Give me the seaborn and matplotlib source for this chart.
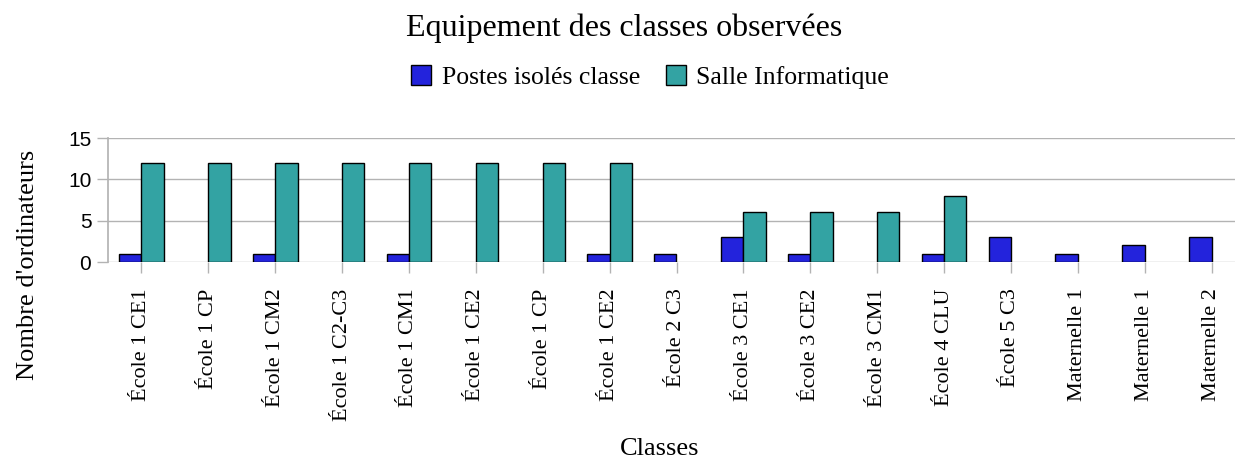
import numpy as np
import pandas as pd
import matplotlib
matplotlib.use("Agg")
import matplotlib.pyplot as plt
import seaborn as sns

# Données
classes = ["École 1 CE1", "École 1 CP", "École 1 CM2", "École 1 C2-C3", "École 1 CM1",
           "École 1 CE2", "École 1 CP", "École 1 CE2", "École 2 C3", "École 3 CE1",
           "École 3 CE2", "École 3 CM1", "École 4 CLU", "École 5 C3", "Maternelle 1",
           "Maternelle 1", "Maternelle 2"]
postes_isoles = [1, 0, 1, 0, 1, 0, 0, 1, 1, 3, 1, 0, 1, 3, 1, 2, 3]
salle_info = [12, 12, 12, 12, 12, 12, 12, 12, 0, 6, 6, 6, 8, 0, 0, 0, 0]
series = ["Postes isolés classe", "Salle Informatique"]
yticks = [0, 5, 10, 15]

# Tableau long pour seaborn (index car certains noms se répètent)
df = pd.DataFrame({
    "idx": list(range(len(classes))) * 2,
    "serie": [series[0]] * len(classes) + [series[1]] * len(classes),
    "valeur": postes_isoles + salle_info,
})

sns.set_theme(style="white")
plt.rcParams['font.family'] = ['Liberation Serif', 'DejaVu Serif']
plt.rcParams['text.color'] = 'black'
plt.rcParams['xtick.labelcolor'] = 'black'
plt.rcParams['ytick.labelcolor'] = 'black'

fig = plt.figure(figsize=(12.35, 4.59), dpi=100)
ax = fig.add_axes([108 / 1235, 1 - 262 / 459, (1245 - 108) / 1235, 124 / 459])

palette = {series[0]: "#2323dc", series[1]: "#33a3a3"}
sns.barplot(data=df, x="idx", y="valeur", hue="serie", hue_order=series,
            palette=palette, width=0.667, edgecolor="black", linewidth=1,
            saturation=1, legend=False, ax=ax)

# les barres à zéro ne sont pas dessinées
for p in ax.patches:
    if p.get_height() == 0:
        p.set_visible(False)

ax.set_xlim(-0.5, len(classes) - 0.5)
ax.set_ylim(0, 15)
ax.set_yticks(yticks)
ax.set_yticklabels([str(v) for v in yticks], family='Liberation Sans', fontsize=15)
ax.set_xticks(range(len(classes)))
ax.set_xticklabels(classes, rotation=90, fontsize=16)
ax.set_xlabel("")
ax.set_ylabel("")
ax.yaxis.grid(True, color="#b3b3b3", linewidth=1)
ax.set_axisbelow(True)
for s in ["top", "right", "bottom"]:
    ax.spines[s].set_visible(False)
ax.spines["left"].set_color("#b3b3b3")
ax.tick_params(axis="x", length=8, color="#b3b3b3", width=1, pad=11, bottom=True,
               labelcolor="black")
ax.tick_params(axis="y", length=8, color="#b3b3b3", width=1, pad=4, left=True,
               labelcolor="black")

# Légende
handles = [plt.Rectangle((0, 0), 1, 1, facecolor=palette[s], edgecolor="black", linewidth=1)
           for s in series]
fig.legend(handles, series, loc="center", bbox_to_anchor=(650 / 1235, 1 - 77 / 459),
           ncol=2, frameon=False, fontsize=18.5, handlelength=0.8, handleheight=0.8,
           handletextpad=0.4, columnspacing=1.0, labelcolor="black")

fig.text(624 / 1235, 1 - 28 / 459, "Equipement des classes observées",
         ha="center", va="center", fontsize=23, color="black")
fig.text(28 / 1235, 1 - 265 / 459, "Nombre d'ordinateurs", rotation=90,
         ha="center", va="center", fontsize=19, color="black")
fig.text(660 / 1235, 1 - 449 / 459, "Classes", ha="center", va="center",
         fontsize=19, color="black")

fig.savefig("out.png", dpi=100)
